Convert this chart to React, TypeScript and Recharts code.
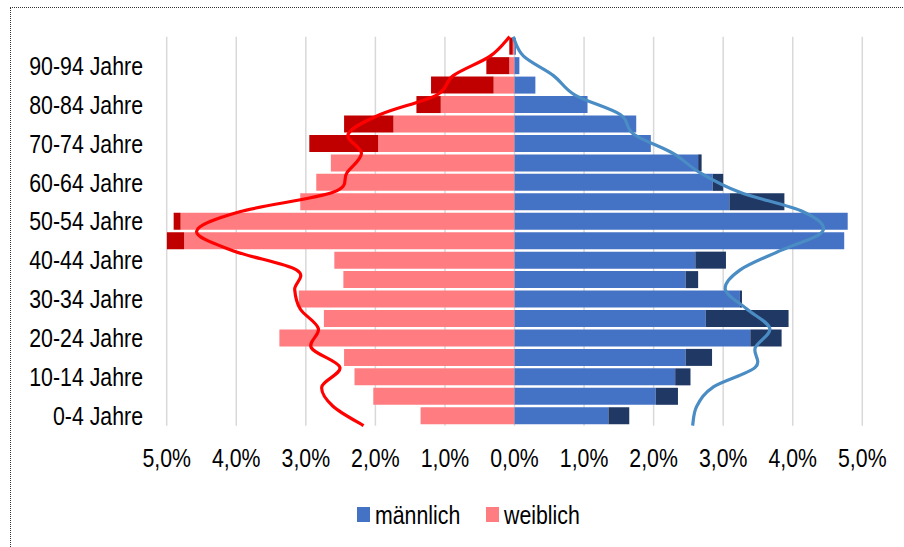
import { ComposedChart, Bar, Line, XAxis, YAxis, CartesianGrid } from "recharts";

const ageGroups = [
  "0-4 Jahre", "5-9 Jahre", "10-14 Jahre", "15-19 Jahre", "20-24 Jahre",
  "25-29 Jahre", "30-34 Jahre", "35-39 Jahre", "40-44 Jahre", "45-49 Jahre",
  "50-54 Jahre", "55-59 Jahre", "60-64 Jahre", "65-69 Jahre", "70-74 Jahre",
  "75-79 Jahre", "80-84 Jahre", "85-89 Jahre", "90-94 Jahre", "95+ Jahre",
];

// shares in % of total population
const femaleBase = [1.35, 2.03, 2.3, 2.45, 3.38, 2.74, 3.1, 2.46, 2.59, 4.75, 4.8, 3.08, 2.85, 2.64, 1.96, 1.74, 1.06, 0.3, 0.075, 0.025];
const femaleExtra = [0, 0, 0, 0, 0, 0, 0, 0, 0, 0.26, 0.1, 0, 0, 0, 0.99, 0.71, 0.35, 0.9, 0.33, 0.05];
const maleBase = [1.35, 2.03, 2.31, 2.46, 3.39, 2.75, 3.24, 2.46, 2.6, 4.74, 4.79, 3.09, 2.85, 2.64, 1.96, 1.75, 1.05, 0.3, 0.07, 0.02];
const maleExtra = [0.3, 0.32, 0.22, 0.38, 0.45, 1.19, 0.03, 0.18, 0.44, 0, 0, 0.79, 0.15, 0.05, 0, 0, 0, 0, 0, 0];

// comparison curves, sampled at the age class boundaries
const curveAges = [0, 5, 10, 15, 20, 25, 30, 35, 40, 45, 50, 55, 60, 65, 70, 75, 80, 85, 90, 95, 100];
const femaleCurve = [-2.17, -2.61, -2.77, -2.51, -2.92, -2.82, -3.08, -3.16, -3.13, -4.05, -4.57, -3.95, -2.61, -2.41, -2.2, -2.39, -1.93, -1.12, -0.88, -0.35, -0.07];
const maleCurve = [2.56, 2.62, 2.86, 3.46, 3.46, 3.67, 3.34, 3.03, 3.24, 3.82, 4.43, 4.15, 3.24, 2.67, 2.28, 1.71, 1.52, 0.87, 0.56, 0.13, -0.02];

const xTicks = [-5, -4, -3, -2, -1, 0, 1, 2, 3, 4, 5];

const barData = ageGroups.map((name, i) => ({
  name,
  wBase: -femaleBase[i],
  wExtra: -femaleExtra[i],
  mBase: maleBase[i],
  mExtra: maleExtra[i],
}));
const femaleLine = curveAges.map((age, i) => ({ age, v: femaleCurve[i] }));
const maleLine = curveAges.map((age, i) => ({ age, v: maleCurve[i] }));

const FONT = "'Liberation Sans', Arial, sans-serif";

// Excel-like smoothing (Catmull-Rom through every point)
function smoothCurve(context: any) {
  let pts: number[][] = [];
  return {
    areaStart() {},
    areaEnd() {},
    lineStart() {
      pts = [];
    },
    point(x: number, y: number) {
      pts.push([+x, +y]);
    },
    lineEnd() {
      if (!pts.length) return;
      context.moveTo(pts[0][0], pts[0][1]);
      for (let i = 0; i < pts.length - 1; i++) {
        const p0 = pts[i - 1] || pts[i];
        const p1 = pts[i];
        const p2 = pts[i + 1];
        const p3 = pts[i + 2] || p2;
        context.bezierCurveTo(
          p1[0] + (p2[0] - p0[0]) / 6,
          p1[1] + (p2[1] - p0[1]) / 6,
          p2[0] - (p3[0] - p1[0]) / 6,
          p2[1] - (p3[1] - p1[1]) / 6,
          p2[0],
          p2[1]
        );
      }
    },
  };
}

const pct = (v: number) => `${Math.abs(v).toFixed(1).replace(".", ",")}%`;

function AgeTick({ y, payload }: any) {
  // labels end a bit left of the plot area
  return (
    <text
      transform={`translate(143,${y + 9}) scale(0.82,1)`}
      textAnchor="end"
      fontSize={26}
      fontFamily={FONT}
      fill="#000"
    >
      {payload.value}
    </text>
  );
}

function PctTick({ x, y, payload }: any) {
  return (
    <text
      transform={`translate(${x},${y + 33}) scale(0.82,1)`}
      textAnchor="middle"
      fontSize={26}
      fontFamily={FONT}
      fill="#000"
    >
      {pct(payload.value)}
    </text>
  );
}

export default function App() {
  return (
    <div style={{ position: "absolute", left: 0, top: 0, width: 904, height: 547, overflow: "hidden", background: "#fff" }}>
      <div
        style={{
          position: "absolute",
          left: 10,
          top: 7,
          width: 904,
          height: 547,
          borderTop: "1px dotted #333",
          borderLeft: "1px dotted #333",
        }}
      />
      <ComposedChart
        width={904}
        height={547}
        data={barData}
        layout="vertical"
        stackOffset="sign"
        barCategoryGap={1}
        margin={{ top: 36.7, right: 41.7, bottom: 81.3, left: 0 }}
        style={{ position: "absolute", left: 0, top: 0 }}
      >
        <CartesianGrid horizontal={false} stroke="#d9d9d9" strokeWidth={1.5} />
        <XAxis
          type="number"
          domain={[-5, 5]}
          ticks={xTicks}
          allowDataOverflow
          axisLine={false}
          tickLine={false}
          height={40}
          tick={<PctTick />}
        />
        <YAxis
          yAxisId="cat"
          type="category"
          dataKey="name"
          reversed
          width={166.7}
          interval={1}
          axisLine={false}
          tickLine={false}
          tick={<AgeTick />}
        />
        <YAxis
          yAxisId="age"
          type="number"
          dataKey="age"
          domain={[0, 100]}
          orientation="right"
          width={0}
          reversed
          hide
        />
        <Bar yAxisId="cat" dataKey="wBase" stackId="a" fill="#ff7c80" isAnimationActive={false} />
        <Bar yAxisId="cat" dataKey="wExtra" stackId="a" fill="#c00000" isAnimationActive={false} />
        <Bar yAxisId="cat" dataKey="mBase" stackId="a" fill="#4472c4" isAnimationActive={false} />
        <Bar yAxisId="cat" dataKey="mExtra" stackId="a" fill="#203864" isAnimationActive={false} />
        <Line
          yAxisId="age"
          data={femaleLine}
          dataKey="v"
          type={smoothCurve as any}
          stroke="#ff0000"
          strokeWidth={3.2}
          dot={false}
          isAnimationActive={false}
        />
        <Line
          yAxisId="age"
          data={maleLine}
          dataKey="v"
          type={smoothCurve as any}
          stroke="#4a8cc4"
          strokeWidth={3.2}
          dot={false}
          isAnimationActive={false}
        />
      </ComposedChart>
      <svg width={904} height={547} style={{ position: "absolute", left: 0, top: 0, pointerEvents: "none" }}>
        <rect x={357} y={507} width={13} height={15} fill="#4472c4" />
        <text transform="translate(375,524) scale(0.82,1)" fontSize={26} fontFamily={FONT} fill="#000">
          männlich
        </text>
        <rect x={486} y={507} width={13} height={15} fill="#ff7c80" />
        <text transform="translate(504,524) scale(0.82,1)" fontSize={26} fontFamily={FONT} fill="#000">
          weiblich
        </text>
      </svg>
    </div>
  );
}
